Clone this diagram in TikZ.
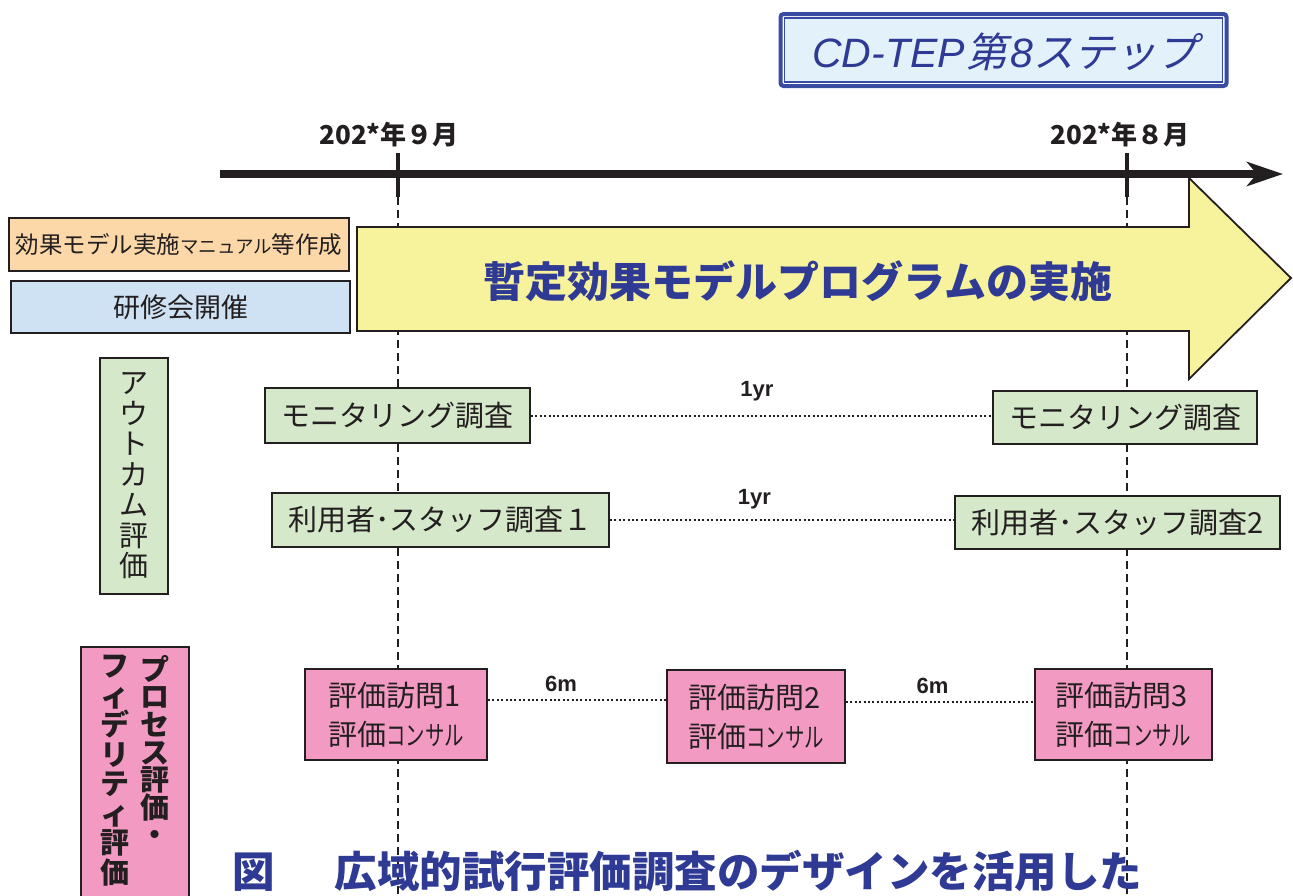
\documentclass[tikz,border=0pt]{standalone}
\usepackage{fontspec}
\setmainfont{Liberation Sans}
\newfontfamily\jp{Noto Sans CJK JP}
\newfontfamily\jpsl{Noto Sans CJK JP}[FakeSlant=0.22]
\usetikzlibrary{arrows.meta,calc}
\definecolor{ink}{HTML}{231F20}
\definecolor{navy}{HTML}{2E3A94}
\definecolor{orangefill}{HTML}{FCD8A8}
\definecolor{bluefill}{HTML}{CFE2F3}
\definecolor{greenfill}{HTML}{D6E8CA}
\definecolor{pinkfill}{HTML}{F39AC3}
\definecolor{yellowfill}{HTML}{F7F29C}
\definecolor{titlefill}{HTML}{E2F1FA}
\definecolor{titleblue}{HTML}{3A4BA2}
\newcommand{\narrowkana}[1]{\scalebox{0.72}[1]{\fontsize{27}{27}\selectfont #1}}
\begin{document}
\begin{tikzpicture}[x=1pt,y=-1pt,
  box/.style={draw=ink, line width=1.8pt, inner sep=0pt, text=ink},
  greenbox/.style={box, fill=greenfill, font=\jp\fontsize{29}{34}\selectfont},
  pinkbox/.style={box, fill=pinkfill, align=left, font=\jp\fontsize{29}{39}\selectfont},
  datelab/.style={font=\jp\bfseries\fontsize{26}{26}\selectfont, text=ink, inner sep=0pt},
  gaplab/.style={font=\bfseries\fontsize{22}{22}\selectfont, text=ink, inner sep=0pt},
  dotline/.style={draw=ink, line width=2pt, dash pattern=on 2pt off 2.4pt},
  guide/.style={draw=ink, line width=1.4pt, dash pattern=on 8pt off 5pt},
  tick/.style={draw=ink, line width=4pt},
  timeline/.style={draw=ink, line width=8pt, -{Stealth[length=36pt, width=24pt, inset=10pt]}},
  bigarrow/.style={draw=ink, line width=1.8pt, fill=yellowfill, line join=miter}
]
\useasboundingbox (0,0) rectangle (1293,895);
\fill[white] (0,0) rectangle (1293,895);

% title
\node[draw=titleblue, line width=4pt, rounded corners=3pt, fill=white,
      minimum width=446pt, minimum height=72pt, inner sep=0pt] (title) at (1003.5,50) {};
\draw[draw=titleblue, line width=1.3pt, fill=titlefill]
  ([shift={(6pt,-6pt)}]title.north west) rectangle ([shift={(-6pt,6pt)}]title.south east);
\node[text=navy, inner sep=0pt] (titletext) at (1005,52)
  {\fontsize{41}{41}\selectfont\itshape CD-TEP\kern2pt{\jpsl 第}\kern3pt 8{\jpsl ステップ}};

% timeline
\coordinate (t0) at (220,174);
\coordinate (t1) at (1283,174);
\draw[timeline] (t0) -- (t1);
\coordinate (k1top) at (398,153);
\coordinate (k1bot) at (398,197);
\coordinate (k2top) at (1127,153);
\coordinate (k2bot) at (1127,197);
\coordinate (k1end) at (398,900);
\coordinate (k2end) at (1127,900);
\draw[tick] (k1top) -- (k1bot);
\draw[tick] (k2top) -- (k2bot);
\draw[guide] (k1bot) -- (k1end);
\draw[guide] (k2bot) -- (k2end);
\node[datelab] (d1) at (389,135) {202*年９月};
\node[datelab] (d2) at (1120,135) {202*年８月};

% left boxes
\node[box, fill=orangefill, minimum width=340pt, minimum height=53pt,
      font=\jp\fontsize{23.5}{24}\selectfont] (manual) at (179,244.5)
  {効果モデル実施{\fontsize{18.5}{18.5}\selectfont マニュアル}等作成};
\node[box, fill=bluefill, minimum width=339pt, minimum height=52pt,
      font=\jp\fontsize{27}{27}\selectfont] (training) at (180.5,307) {研修会開催};

% big arrow
\draw[bigarrow] (357,227) -- (1189,227) -- (1189,178) -- (1291,278) -- (1189,379) -- (1189,331) -- (357,331) -- cycle;
\node[font=\jp\bfseries\fontsize{42}{42}\selectfont, text=navy] (prog) at (798,281) {暫定効果モデルプログラムの実施};

% outcome evaluation
\node[box, fill=greenfill, minimum width=68pt, minimum height=236pt, align=center,
      font=\jp\fontsize{29}{30.5}\selectfont] (outc) at (134,476)
  {ア\\ウ\\ト\\カ\\ム\\評\\価};
\node[greenbox, minimum width=265pt, minimum height=55pt] (mon1) at (397.5,415.5) {モニタリング調査};
\node[greenbox, minimum width=264pt, minimum height=53pt] (mon2) at (1125,417.5) {モニタリング調査};
\node[greenbox, minimum width=337pt, minimum height=54pt] (usr1) at (440.5,520) {利用者･スタッフ調査１};
\node[greenbox, minimum width=325pt, minimum height=53pt] (usr2) at (1117.5,522.5) {利用者･スタッフ調査2};
\draw[dotline] (mon1.east) -- (mon1.east -| mon2.west)
  node[gaplab, pos=0.49, above=13pt] (y1) {1yr};
\draw[dotline] (usr1.east) -- (usr1.east -| usr2.west)
  node[gaplab, pos=0.42, above=10pt] (y2) {1yr};

% process evaluation
\node[box, fill=pinkfill, minimum width=108pt, minimum height=262pt] (proc) at (135,778) {};
\node[anchor=north, inner sep=0pt, align=center, text=ink,
      font=\jp\bfseries\fontsize{29}{27.6}\selectfont] (pcol1) at (155,655)
  {プ\\ロ\\セ\\ス\\評\\価\\・};
\node[anchor=north, inner sep=0pt, align=center, text=ink,
      font=\jp\bfseries\fontsize{29}{29.5}\selectfont] (pcol2) at (115,655)
  {フ\\ィ\\デ\\リ\\テ\\ィ\\評\\価};

\node[pinkbox, minimum width=182pt, minimum height=91pt] (ev1) at (396,714.5)
  {評価訪問1\\評価\narrowkana{コンサル}};
\node[pinkbox, minimum width=178pt, minimum height=93pt] (ev2) at (756,716.5)
  {評価訪問2\\評価\narrowkana{コンサル}};
\node[pinkbox, minimum width=177pt, minimum height=91pt] (ev3) at (1123.5,714.5)
  {評価訪問3\\評価\narrowkana{コンサル}};
\coordinate (e1) at ([yshift=15pt]ev1.east);
\coordinate (e2) at ([yshift=15pt]ev2.east);
\draw[dotline] (e1) -- (e1 -| ev2.west)
  node[gaplab, pos=0.41, above=7pt] (m1) {6m};
\draw[dotline] (e2) -- (e2 -| ev3.west)
  node[gaplab, pos=0.46, above=7pt] (m2) {6m};

% caption
\node[anchor=west, inner sep=0pt, text=navy, font=\jp\bfseries\fontsize{42.5}{43}\selectfont] (cap) at (232,871)
  {図\hspace{60pt}広域的試行評価調査のデザインを活用した};
\end{tikzpicture}
\end{document}
